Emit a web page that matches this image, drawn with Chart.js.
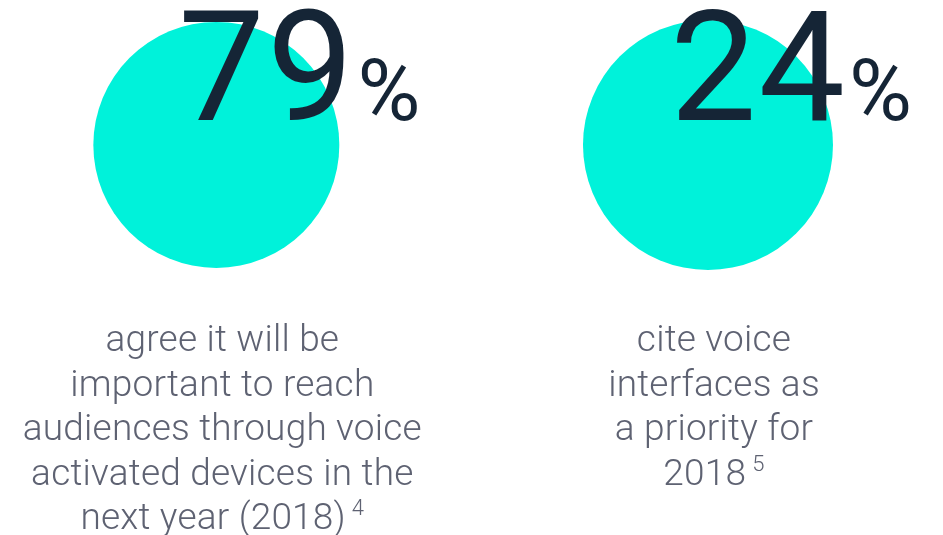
<!DOCTYPE html>
<html>
<head>
<meta charset="utf-8">
<script src="https://cdn.jsdelivr.net/npm/chart.js@4/dist/chart.umd.min.js"></script>
<style>
    body { margin: 0; background: #fff; }
    #wrap { width: 943px; height: 535px; position: relative; }
</style>
</head>
<body>
<div id="wrap"><canvas id="__chart_voice"></canvas></div>
<script>

const values = [ 79, 24 ];

const captions = [
    [ 'agree it will be', 'important to reach', 'audiences through voice', 'activated devices in the', 'next year (2018)' ],
    [ 'cite voice', 'interfaces as', 'a priority for', '2018' ]
];

const footnotes = [ '4', '5' ];

document.addEventListener( 'DOMContentLoaded', function () {

    let ctx = document.getElementById( '__chart_voice' ).getContext( '2d' );

    /**
     * draw big numbers and captions over the circles
     */

    const statText = {
        id: 'statText',
        afterDatasetsDraw: ( chart ) => {

            let c = chart.ctx;
            let meta = chart.getDatasetMeta( 0 );

            c.save();

            meta.data.forEach( ( pt, i ) => {

                let num = String( values[ i ] );

                c.fillStyle = '#152536';
                c.textBaseline = 'alphabetic';
                c.textAlign = 'left';
                c.letterSpacing = '2px';
                c.font = '400 154px Roboto';

                let nx = pt.x - 38;
                c.fillText( num, nx, 120 );

                let w = c.measureText( num ).width;

                c.letterSpacing = '0px';
                c.font = '400 86px Roboto';
                c.fillText( '%', nx + w + 2, 120 );

                // caption lines
                c.fillStyle = '#5e6272';
                c.letterSpacing = '0.2px';
                c.font = '300 37px Roboto';
                c.textAlign = 'center';

                let lines = captions[ i ];
                let cx = pt.x + 6;

                lines.forEach( ( line, j ) => {

                    let y = 351 + j * 44.5;

                    if( j === lines.length - 1 ) {

                        c.font = '300 37px Roboto';
                        let lw = c.measureText( line ).width;
                        c.font = '300 22px Roboto';
                        let fw = c.measureText( footnotes[ i ] ).width;
                        let left = cx - ( lw + fw + 6 ) / 2;

                        c.textAlign = 'left';
                        c.font = '300 37px Roboto';
                        c.fillText( line, left, y );
                        c.font = '300 22px Roboto';
                        c.fillText( footnotes[ i ], left + lw + 6, y - 14 );
                        c.textAlign = 'center';

                    } else {

                        c.fillText( line, cx, y );

                    }

                } );

            } );

            c.restore();

        }
    };

    new Chart( ctx, {
        type: 'scatter',
        data: {
            datasets: [ {
                data: values.map( ( v, i ) => ( { x: i, y: 0 } ) ),
                pointRadius: [ 123, 125 ],
                pointHoverRadius: [ 123, 125 ],
                pointBackgroundColor: '#00f2da',
                pointBorderWidth: 0,
                clip: false
            } ]
        },
        options: {
            responsive: true,
            maintainAspectRatio: false,
            animation: false,
            events: [],
            layout: {
                autoPadding: false,
                padding: 0
            },
            plugins: {
                legend: {
                    display: false
                },
                tooltip: {
                    enabled: false
                }
            },
            scales: {
                x: {
                    display: false,
                    min: -0.44,
                    max: 1.478
                },
                y: {
                    display: false,
                    min: -2.69,
                    max: 1
                }
            }
        },
        plugins: [ statText ]
    } );

} );

</script>
</body>
</html>
